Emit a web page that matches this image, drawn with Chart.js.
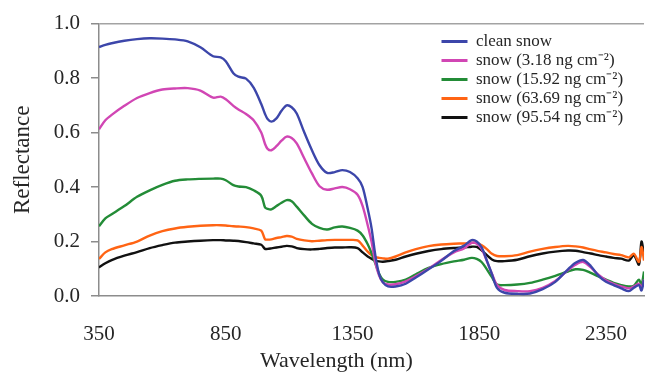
<!DOCTYPE html>
<html>
<head>
<meta charset="utf-8">
<title>Snow reflectance spectra</title>
<script src="https://cdn.jsdelivr.net/npm/chart.js"></script>
<style>
  html, body { margin: 0; padding: 0; background: #fff; }
  #wrap { position: relative; width: 653px; height: 381px; }
  #x-title {
    position: absolute; left: 260px; top: 348px;
    font: 22px "Liberation Serif", "Times New Roman", serif;
    line-height: 24px; color: #262626; white-space: nowrap;
  }
</style>
</head>
<body>
<div id="wrap">
  <canvas id="spectra" width="653" height="381"></canvas>
  <div id="x-title">Wavelength (nm)</div>
</div>
<script>
// ---- data ----
const wavelengths = [
  350, 375, 400, 450, 500, 550, 600, 650, 700, 750, 800, 830,
  850, 880, 900, 930, 960, 990, 1005, 1015, 1030, 1050, 1070, 1090,
  1110, 1130, 1160, 1190, 1220, 1250, 1280, 1310, 1340, 1370, 1390, 1410,
  1425, 1440, 1455, 1470, 1490, 1520, 1560, 1600, 1650, 1700, 1750, 1790,
  1820, 1840, 1860, 1880, 1900, 1920, 1950, 2000, 2050, 2100, 2150, 2200,
  2230, 2260, 2290, 2320, 2350, 2380, 2410, 2440, 2460, 2480, 2490, 2500
];

const cleanSnow = [
  0.914, 0.922, 0.928, 0.937, 0.943, 0.946, 0.945, 0.942, 0.935, 0.913, 0.880, 0.876,
  0.862, 0.818, 0.805, 0.798, 0.765, 0.705, 0.668, 0.650, 0.640, 0.652, 0.680, 0.700,
  0.693, 0.670, 0.600, 0.535, 0.480, 0.452, 0.455, 0.462, 0.455, 0.432, 0.400, 0.320,
  0.250, 0.150, 0.080, 0.050, 0.035, 0.035, 0.045, 0.068, 0.098, 0.129, 0.165, 0.185,
  0.205, 0.200, 0.178, 0.130, 0.080, 0.030, 0.012, 0.008, 0.009, 0.025, 0.052, 0.098,
  0.122, 0.132, 0.110, 0.075, 0.052, 0.040, 0.028, 0.018, 0.030, 0.040, 0.020, 0.060
];
const snow318 = [
  0.612, 0.645, 0.665, 0.698, 0.727, 0.745, 0.758, 0.762, 0.763, 0.754, 0.728, 0.732,
  0.722, 0.698, 0.685, 0.668, 0.645, 0.600, 0.558, 0.540, 0.535, 0.550, 0.570, 0.585,
  0.580, 0.560, 0.505, 0.450, 0.403, 0.390, 0.395, 0.400, 0.392, 0.372, 0.330, 0.260,
  0.200, 0.123, 0.075, 0.050, 0.042, 0.043, 0.054, 0.073, 0.100, 0.132, 0.160, 0.175,
  0.195, 0.192, 0.172, 0.128, 0.082, 0.040, 0.022, 0.018, 0.018, 0.030, 0.055, 0.095,
  0.115, 0.125, 0.105, 0.078, 0.058, 0.045, 0.035, 0.028, 0.035, 0.045, 0.030, 0.060
];
const snow1592 = [
  0.256, 0.285, 0.300, 0.330, 0.364, 0.388, 0.408, 0.423, 0.428, 0.430, 0.431, 0.431,
  0.425, 0.407, 0.402, 0.400, 0.388, 0.368, 0.325, 0.320, 0.318, 0.330, 0.342, 0.352,
  0.348, 0.328, 0.295, 0.265, 0.250, 0.244, 0.252, 0.255, 0.250, 0.240, 0.222, 0.190,
  0.158, 0.120, 0.082, 0.060, 0.052, 0.052, 0.060, 0.080, 0.103, 0.117, 0.127, 0.133,
  0.140, 0.136, 0.124, 0.098, 0.069, 0.042, 0.040, 0.042, 0.048, 0.060, 0.074, 0.090,
  0.098, 0.096, 0.085, 0.072, 0.060, 0.048, 0.040, 0.035, 0.038, 0.060, 0.040, 0.090
];
const snow6369 = [
  0.136, 0.160, 0.172, 0.186, 0.200, 0.222, 0.238, 0.248, 0.254, 0.258, 0.260, 0.260,
  0.259, 0.256, 0.255, 0.253, 0.248, 0.240, 0.208, 0.207, 0.208, 0.213, 0.216, 0.220,
  0.218, 0.210, 0.204, 0.201, 0.203, 0.205, 0.206, 0.206, 0.206, 0.204, 0.185, 0.163,
  0.150, 0.143, 0.140, 0.138, 0.137, 0.145, 0.160, 0.172, 0.183, 0.189, 0.192, 0.193,
  0.195, 0.195, 0.186, 0.172, 0.155, 0.147, 0.146, 0.150, 0.163, 0.173, 0.180, 0.184,
  0.182, 0.178, 0.171, 0.165, 0.160, 0.154, 0.150, 0.142, 0.155, 0.125, 0.180, 0.130
];
const snow9554 = [
  0.105, 0.120, 0.132, 0.148, 0.161, 0.176, 0.187, 0.196, 0.200, 0.203, 0.205, 0.205,
  0.204, 0.203, 0.202, 0.198, 0.193, 0.188, 0.173, 0.173, 0.175, 0.178, 0.181, 0.184,
  0.182, 0.176, 0.172, 0.171, 0.173, 0.176, 0.178, 0.178, 0.179, 0.176, 0.160, 0.145,
  0.137, 0.130, 0.127, 0.126, 0.128, 0.133, 0.145, 0.155, 0.165, 0.172, 0.176, 0.178,
  0.181, 0.180, 0.167, 0.150, 0.134, 0.128, 0.128, 0.133, 0.146, 0.156, 0.163, 0.167,
  0.166, 0.161, 0.156, 0.150, 0.145, 0.140, 0.137, 0.130, 0.150, 0.115, 0.200, 0.150
];

const seriesNames = [
  'clean snow',
  'snow (3.18 ng cm\u207B\u00B2)',
  'snow (15.92 ng cm\u207B\u00B2)',
  'snow (63.69 ng cm\u207B\u00B2)',
  'snow (95.54 ng cm\u207B\u00B2)'
];
const seriesValues = [cleanSnow, snow318, snow1592, snow6369, snow9554];

const xTickValues = [350, 850, 1350, 1850, 2350];
const xTickLabels = ['350', '850', '1350', '1850', '2350'];
const yTickValues = [0, 0.2, 0.4, 0.6, 0.8, 1.0];
const yTickLabels = ['0.0', '0.2', '0.4', '0.6', '0.8', '1.0'];

// ---- styling ----
const serif = '"Liberation Serif", "Times New Roman", serif';
const textColor = '#262626';
const axisColor = '#8c8c8c';
const seriesColors = ['#3c46aa', '#d146b4', '#238c37', '#ff6414', '#111111'];

// legend sits inside the plot, upper right
const legendLeft = 439.5;
const legendTop = 31;

const legendSpot = {
  id: 'legendSpot',
  afterLayout(chart) {
    const lg = chart.legend;
    if (!lg) return;
    const dx = legendLeft - lg.left;
    const dy = legendTop - lg.top;
    lg.left += dx; lg.right += dx;
    lg.top += dy; lg.bottom += dy;
  }
};

const ctx = document.getElementById('spectra').getContext('2d');

const spectraChart = new Chart(ctx, {
  type: 'line',
  data: {
    labels: wavelengths,
    datasets: seriesNames.map((name, i) => ({
      label: name,
      data: seriesValues[i],
      borderColor: seriesColors[i],
      backgroundColor: seriesColors[i],
      borderWidth: 2.4,
      pointRadius: 0,
      tension: 0.3,
      fill: false
    }))
  },
  options: {
    responsive: false,
    animation: false,
    devicePixelRatio: 1,
    layout: { padding: { top: 20, left: 0, right: 0, bottom: 0 } },
    plugins: {
      tooltip: { enabled: false },
      legend: {
        position: 'chartArea',
        align: 'start',
        labels: {
          boxWidth: 26,
          boxHeight: 3,
          padding: 2,
          color: textColor,
          font: { family: serif, size: 17 },
          sort: (a, b) => a.datasetIndex - b.datasetIndex,
          generateLabels(chart) {
            return Chart.defaults.plugins.legend.labels.generateLabels(chart)
              .map(item => Object.assign(item, { lineWidth: 0 }));
          }
        }
      }
    },
    scales: {
      x: {
        type: 'linear',
        min: 350,
        max: 2500,
        afterBuildTicks(scale) { scale.ticks = xTickValues.map(v => ({ value: v })); },
        afterFit(scale) { scale.height = 85; },
        ticks: {
          callback: (v, i) => xTickLabels[i],
          color: textColor,
          font: { family: serif, size: 21 },
          padding: 26,
          maxRotation: 0,
          autoSkip: false
        },
        grid: { display: false, drawTicks: false },
        border: { display: true, color: axisColor, width: 1.5 }
      },
      y: {
        min: 0,
        max: 1,
        afterBuildTicks(scale) { scale.ticks = yTickValues.map(v => ({ value: v })); },
        afterFit(scale) { scale.width = 99; },
        ticks: {
          callback: (v, i) => yTickLabels[i],
          color: textColor,
          font: { family: serif, size: 21 },
          padding: 11
        },
        grid: {
          // only the top frame line is drawn across the plot
          color: c => (c.tick && c.tick.value === 1 ? '#a3a3a3' : 'rgba(0,0,0,0)'),
          tickColor: axisColor,
          tickLength: 8,
          lineWidth: 1.5
        },
        border: { display: true, color: axisColor, width: 1.5 },
        title: {
          display: true,
          text: 'Reflectance',
          color: textColor,
          font: { family: serif, size: 23 },
          padding: { top: 9, bottom: 0 }
        }
      }
    }
  },
  plugins: [legendSpot]
});
</script>
</body>
</html>
